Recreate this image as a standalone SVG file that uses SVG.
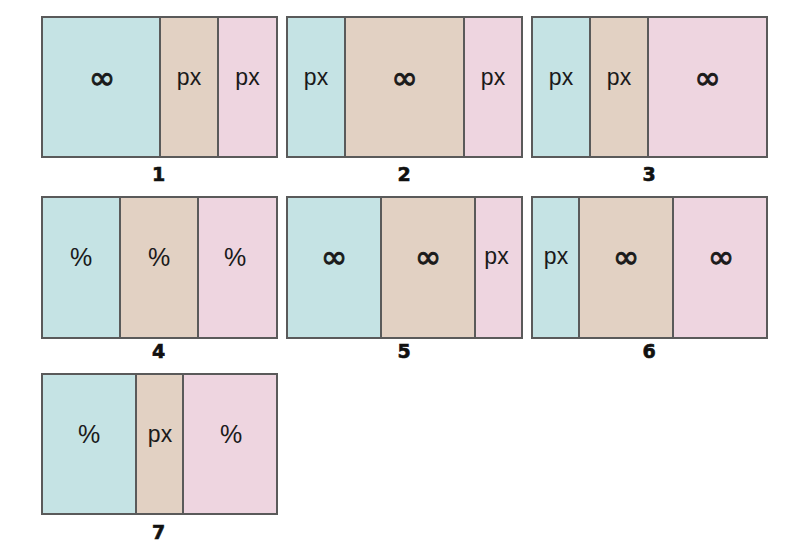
<svg xmlns="http://www.w3.org/2000/svg" width="806" height="547" viewBox="0 0 806 547">
<style>
.b{fill:#c5e3e4;stroke:#5a5a5a;stroke-width:2}
.t{fill:#e2d1c3;stroke:#5a5a5a;stroke-width:2}
.p{fill:#eed5e0;stroke:#5a5a5a;stroke-width:2}
.px{font-family:"Liberation Sans",Arial,sans-serif;font-size:23px;fill:#1a1a1a;text-anchor:middle}
.pc{font-family:"Liberation Sans",Arial,sans-serif;font-size:25px;fill:#1a1a1a;text-anchor:middle}
.inf{font-family:"DejaVu Sans",sans-serif;font-size:32px;fill:#1a1a1a;stroke:#1a1a1a;stroke-width:0.9;text-anchor:middle}
.n{font-family:"DejaVu Sans",Verdana,sans-serif;font-weight:bold;font-size:19px;fill:#111;stroke:#111;stroke-width:0.6;text-anchor:middle}
</style>
<rect width="806" height="547" fill="#fff"/>
<g id="panel1">
<rect class="b" x="42" y="17" width="118" height="140"/>
<rect class="t" x="160" y="17" width="58" height="140"/>
<rect class="p" x="218" y="17" width="59" height="140"/>
<text class="inf" x="102" y="89">∞</text>
<text class="px" x="189" y="85">px</text>
<text class="px" x="247.5" y="85">px</text>
<text class="n" x="158.5" y="181">1</text>
</g>
<g id="panel2">
<rect class="b" x="287" y="17" width="58" height="140"/>
<rect class="t" x="345" y="17" width="119" height="140"/>
<rect class="p" x="464" y="17" width="58" height="140"/>
<text class="px" x="316" y="85">px</text>
<text class="inf" x="404.5" y="89">∞</text>
<text class="px" x="493" y="85">px</text>
<text class="n" x="404" y="181">2</text>
</g>
<g id="panel3">
<rect class="b" x="532" y="17" width="58" height="140"/>
<rect class="t" x="590" y="17" width="58" height="140"/>
<rect class="p" x="648" y="17" width="119" height="140"/>
<text class="px" x="561" y="85">px</text>
<text class="px" x="619" y="85">px</text>
<text class="inf" x="707.5" y="89">∞</text>
<text class="n" x="649" y="181">3</text>
</g>
<g id="panel4">
<rect class="b" x="42" y="197" width="78" height="141"/>
<rect class="t" x="120" y="197" width="78" height="141"/>
<rect class="p" x="198" y="197" width="79" height="141"/>
<text class="pc" x="81" y="266">%</text>
<text class="pc" x="159" y="266">%</text>
<text class="pc" x="235" y="266">%</text>
<text class="n" x="158.5" y="358">4</text>
</g>
<g id="panel5">
<rect class="b" x="287" y="197" width="94" height="141"/>
<rect class="t" x="381" y="197" width="94" height="141"/>
<rect class="p" x="475" y="197" width="47" height="141"/>
<text class="inf" x="334" y="268">∞</text>
<text class="inf" x="428" y="268">∞</text>
<text class="px" x="496.5" y="264">px</text>
<text class="n" x="404" y="358">5</text>
</g>
<g id="panel6">
<rect class="b" x="532" y="197" width="47" height="141"/>
<rect class="t" x="579" y="197" width="94" height="141"/>
<rect class="p" x="673" y="197" width="94" height="141"/>
<text class="px" x="556" y="264">px</text>
<text class="inf" x="626" y="268">∞</text>
<text class="inf" x="721" y="268">∞</text>
<text class="n" x="649" y="358">6</text>
</g>
<g id="panel7">
<rect class="b" x="42" y="374" width="94" height="140"/>
<rect class="t" x="136" y="374" width="47" height="140"/>
<rect class="p" x="183" y="374" width="94" height="140"/>
<text class="pc" x="89" y="443">%</text>
<text class="px" x="160" y="442">px</text>
<text class="pc" x="231" y="443">%</text>
<text class="n" x="158.5" y="539">7</text>
</g>
<g id="connectors"/>
</svg>
